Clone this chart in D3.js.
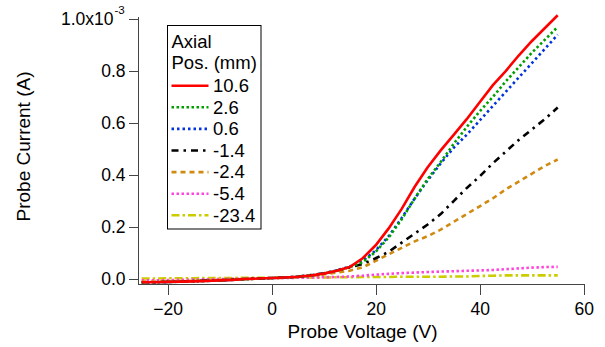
<!DOCTYPE html>
<html>
<head>
<meta charset="utf-8">
<style>
  body { margin: 0; background: #fff; }
  svg { font-family: "Liberation Sans", Arial, sans-serif; }
  .axis path, .axis line { stroke: #444; shape-rendering: crispEdges; }
</style>
<script src="https://cdn.jsdelivr.net/npm/d3@7"></script>
</head>
<body>
<svg id="chart" width="605" height="347"></svg>
<script>
// probe voltage (V)
var voltage = [-25, -22.5, -20, -17.5, -15, -12.5, -10, -7.5, -5, -2.5, 0, 2.5, 5, 7.5, 10, 12.5,
  15, 17.5, 20, 22.5, 25, 27.5, 30, 32.5, 35, 37.5, 40, 42.5, 45, 47.5, 50, 52.5, 55];

// probe current, units of 1e-3 A
var pos10_6 = [-0.012, -0.012, -0.011, -0.010, -0.009, -0.007, -0.005, -0.003, 0.000, 0.002, 0.004, 0.006, 0.009, 0.014, 0.021, 0.032,
  0.046, 0.08, 0.13, 0.195, 0.27, 0.355, 0.43, 0.495, 0.555, 0.615, 0.68, 0.745, 0.80, 0.86, 0.915, 0.965, 1.015];
var pos2_6 = [-0.013, -0.012, -0.011, -0.010, -0.008, -0.007, -0.005, -0.003, -0.001, 0.002, 0.004, 0.006, 0.009, 0.014, 0.021, 0.032,
  0.046, 0.065, 0.105, 0.16, 0.23, 0.31, 0.385, 0.45, 0.52, 0.585, 0.645, 0.70, 0.76, 0.815, 0.87, 0.92, 0.97];
var pos0_6 = [-0.013, -0.013, -0.012, -0.010, -0.009, -0.007, -0.005, -0.003, 0.000, 0.002, 0.004, 0.006, 0.009, 0.014, 0.022, 0.033,
  0.048, 0.07, 0.11, 0.165, 0.235, 0.31, 0.38, 0.445, 0.505, 0.555, 0.61, 0.665, 0.72, 0.775, 0.83, 0.885, 0.94];
var neg1_4 = [-0.012, -0.012, -0.011, -0.009, -0.008, -0.006, -0.005, -0.002, 0.000, 0.002, 0.004, 0.006, 0.009, 0.015, 0.022, 0.033,
  0.045, 0.058, 0.08, 0.105, 0.14, 0.175, 0.21, 0.25, 0.30, 0.35, 0.395, 0.445, 0.49, 0.535, 0.575, 0.615, 0.66];
var neg2_4 = [-0.010, -0.010, -0.009, -0.008, -0.007, -0.005, -0.004, -0.002, 0.000, 0.002, 0.003, 0.005, 0.008, 0.012, 0.018, 0.025,
  0.032, 0.045, 0.07, 0.095, 0.12, 0.145, 0.165, 0.19, 0.22, 0.25, 0.28, 0.31, 0.345, 0.375, 0.405, 0.435, 0.46];
var neg5_4 = [-0.005, -0.005, -0.004, -0.003, -0.002, -0.001, 0.000, 0.001, 0.001, 0.002, 0.003, 0.004, 0.005, 0.006, 0.007, 0.008,
  0.010, 0.013, 0.017, 0.020, 0.023, 0.025, 0.027, 0.029, 0.030, 0.032, 0.033, 0.035, 0.038, 0.041, 0.044, 0.046, 0.047];
var neg23_4 = [0.002, 0.002, 0.003, 0.003, 0.003, 0.004, 0.004, 0.004, 0.005, 0.005, 0.005, 0.005, 0.006, 0.006, 0.006, 0.007,
  0.007, 0.008, 0.008, 0.008, 0.009, 0.009, 0.009, 0.009, 0.010, 0.010, 0.012, 0.013, 0.014, 0.014, 0.014, 0.014, 0.014];

var labels = ["10.6", "2.6", "0.6", "-1.4", "-2.4", "-5.4", "-23.4"];
var colors = ["#ff0000", "#00a000", "#0033dd", "#000000", "#d08a10", "#ff44dd", "#cccc00"];
var dashes = [null, "2.5,2.5", "2.5,3", "7,5,2.5,5", "5,4", "2.5,2.5", "8,3,2.5,3"];
var series = [pos10_6, pos2_6, pos0_6, neg1_4, neg2_4, neg5_4, neg23_4];

var xTicks = [-20, 0, 20, 40, 60];
var yTicks = [0, 0.2, 0.4, 0.6, 0.8, 1.0];

var svg = d3.select("#chart");

var x = d3.scaleLinear().domain([-25.8, 60]).range([137.5, 583.7]);
var y = d3.scaleLinear().domain([-0.019, 1.012]).range([284, 16]);

// curves (drawn last to first so red is on top)
var line = d3.line()
  .x(function(d, i) { return x(voltage[i]); })
  .y(function(d) { return y(d); });

for (var k = series.length - 1; k >= 0; k--) {
  svg.append("path")
    .attr("d", line(series[k]))
    .attr("fill", "none")
    .attr("stroke", colors[k])
    .attr("stroke-width", 2.6)
    .attr("stroke-dasharray", dashes[k]);
}

// axes
var xAxis = svg.append("g")
  .attr("class", "axis")
  .attr("transform", "translate(0,284)")
  .call(d3.axisBottom(x).tickValues(xTicks).tickSize(11).tickSizeOuter(0).tickPadding(8));

var yAxis = svg.append("g")
  .attr("class", "axis")
  .attr("transform", "translate(137.5,0)")
  .call(d3.axisLeft(y).tickValues(yTicks).tickSize(9).tickSizeOuter(0).tickPadding(3)
    .tickFormat(function(d) { return d === 1 ? "" : d3.format(".1f")(d); }));

svg.selectAll(".axis")
  .attr("font-size", 17.5)
  .attr("font-family", "'Liberation Sans', Arial, sans-serif");
svg.selectAll(".axis text").attr("fill", "#000");

// 1.0x10^-3 label at the top tick
var topLabel = yAxis.append("text")
  .attr("x", -24)
  .attr("y", y(1.0) + 6)
  .attr("text-anchor", "end")
  .attr("fill", "#000")
  .text("1.0x10");
yAxis.append("text")
  .attr("x", -23)
  .attr("y", y(1.0) - 5)
  .attr("text-anchor", "start")
  .attr("fill", "#000")
  .attr("font-size", 11.5)
  .text("-3");

svg.append("text")
  .attr("x", 362.5)
  .attr("y", 338)
  .attr("text-anchor", "middle")
  .style("font-size", "19px")
  .text("Probe Voltage (V)");

svg.append("text")
  .attr("transform", "translate(30,146.5) rotate(-90)")
  .attr("text-anchor", "middle")
  .style("font-size", "19px")
  .text("Probe Current (A)");

// legend
var lg = svg.append("g").attr("transform", "translate(167.5,25.5)");
lg.append("rect")
  .attr("width", 93.5).attr("height", 203.5)
  .attr("fill", "#fff").attr("stroke", "#000").attr("stroke-width", 1);
lg.append("text").attr("x", 4).attr("y", 22.8).style("font-size", "18.5px").text("Axial");
lg.append("text").attr("x", 4).attr("y", 43).style("font-size", "18.5px").text("Pos. (mm)");

labels.forEach(function(lab, i) {
  var cy = 60.2 + i * 21.6;
  lg.append("line")
    .attr("x1", 4).attr("x2", 41)
    .attr("y1", cy).attr("y2", cy)
    .attr("stroke", colors[i])
    .attr("stroke-width", 2.6)
    .attr("stroke-dasharray", dashes[i]);
  lg.append("text")
    .attr("x", 45.5).attr("y", cy + 6.2)
    .style("font-size", "18.5px")
    .text(lab);
});
</script>
</body>
</html>
